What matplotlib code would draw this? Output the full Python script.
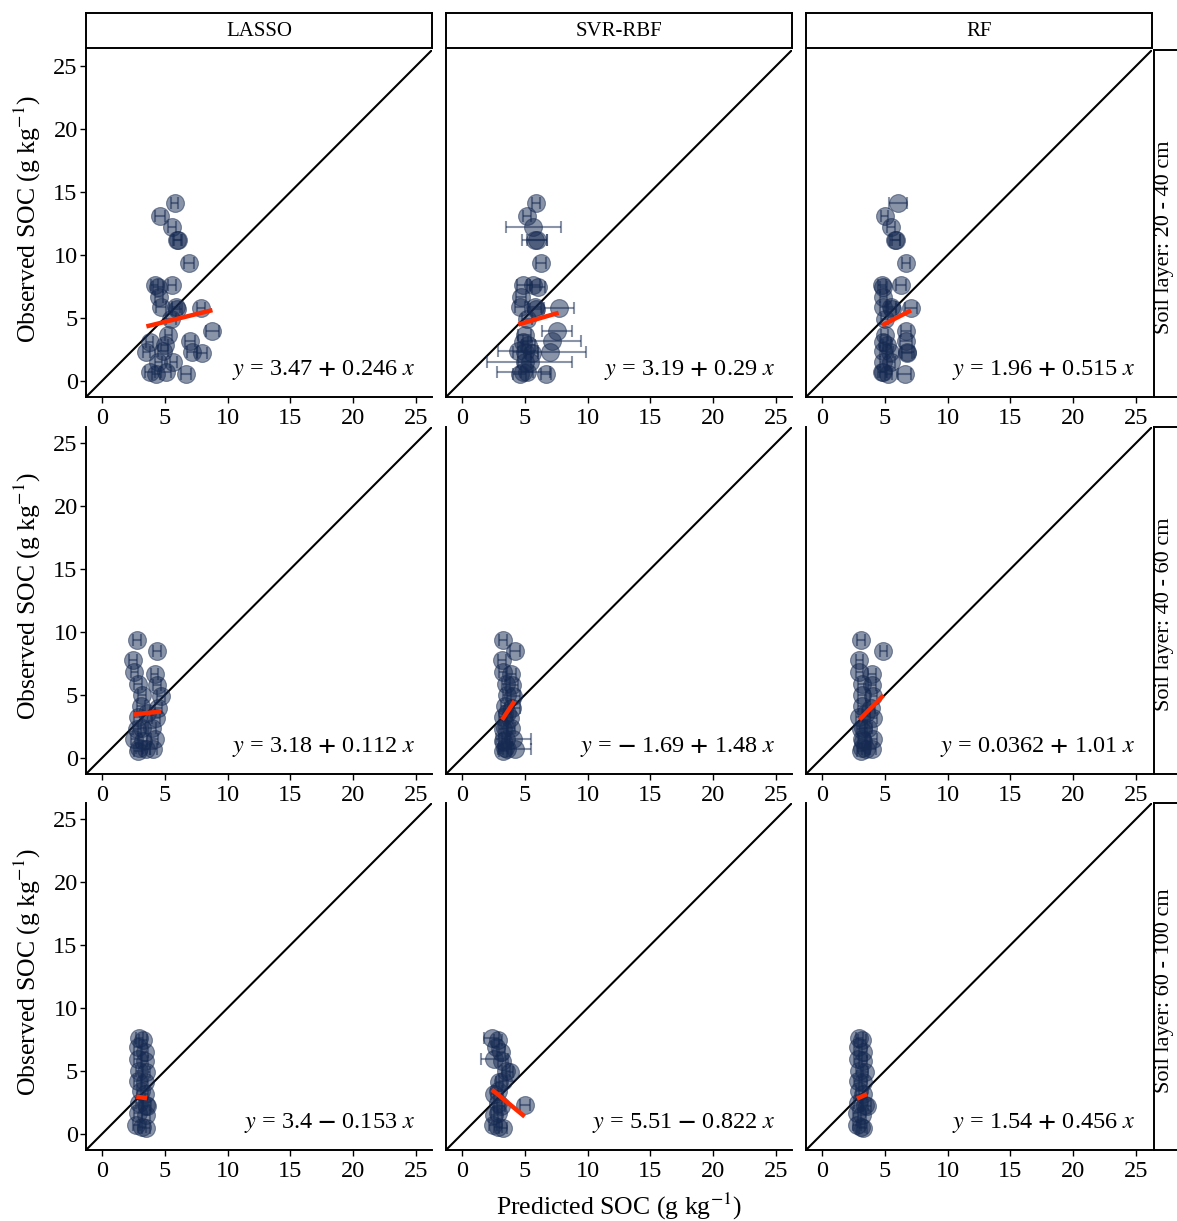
import matplotlib
matplotlib.use("Agg")
import matplotlib.pyplot as plt
import numpy as np

plt.rcParams["font.family"] = ["Liberation Serif", "DejaVu Serif"]
plt.rcParams["mathtext.fontset"] = "stix"

models = ["LASSO", "SVR-RBF", "RF"]
layers = ["Soil layer: 20 - 40 cm", "Soil layer: 40 - 60 cm", "Soil layer: 60 - 100 cm"]

# observed SOC per soil layer (same for all models)
obs_20_40 = [14.1, 13.1, 12.2, 11.2, 11.2, 9.4, 7.6, 7.6, 7.5, 6.7, 5.9, 5.9, 5.8, 5.7, 4.9,
             4.0, 3.7, 3.2, 3.1, 2.9, 2.4, 2.3, 2.3, 2.2, 1.5, 1.5, 0.7, 0.7, 0.6, 0.6]
obs_40_60 = [9.4, 8.5, 7.8, 6.8, 6.7, 5.9, 5.8, 5.0, 4.9, 4.1, 4.0, 3.6, 3.3, 3.2, 2.4, 2.4,
             2.3, 1.5, 1.5, 1.4, 0.8, 0.7, 0.7, 0.6]
obs_60_100 = [7.6, 7.5, 6.9, 6.5, 6.0, 5.8, 5.0, 4.9, 4.2, 4.1, 3.4, 3.2, 2.5, 2.3, 2.2, 1.7,
              1.5, 0.7, 0.6, 0.5]

# predicted SOC (mean) and error bar half-width
lasso_20_40 = [5.8, 4.6, 5.6, 6.05, 6.0, 6.9, 4.2, 5.6, 4.5, 4.55, 4.7, 5.9, 7.9, 6.0, 5.5,
               8.8, 5.3, 7.0, 3.8, 5.0, 4.9, 3.55, 7.2, 8.0, 4.5, 5.7, 3.8, 5.1, 6.7, 4.3]
lasso_20_40_err = [0.3, 0.4, 0.3, 0.3, 0.3, 0.4, 0.3, 0.3, 0.4, 0.3, 0.4, 0.3, 0.3, 0.4, 0.4,
                   0.5, 0.3, 0.4, 0.3, 0.3, 0.4, 0.3, 0.4, 0.4, 0.3, 0.3, 0.4, 0.4, 0.4, 0.3]
svr_20_40 = [5.9, 5.2, 5.7, 5.8, 6.0, 6.3, 4.9, 5.7, 6.1, 4.7, 4.6, 5.8, 7.7, 5.9, 5.2,
             7.6, 5.0, 7.2, 4.9, 5.3, 4.5, 5.0, 7.0, 5.6, 5.4, 5.0, 4.9, 5.2, 6.7, 4.6]
svr_20_40_err = [0.3, 0.3, 2.2, 1.0, 0.8, 0.4, 0.5, 0.5, 0.5, 0.4, 0.4, 0.5, 1.2, 0.5, 0.4,
                 1.2, 0.5, 2.3, 0.4, 0.5, 1.6, 0.5, 2.9, 0.5, 3.4, 0.5, 2.1, 0.5, 0.4, 0.5]
rf_20_40 = [6.05, 5.0, 5.5, 5.8, 5.9, 6.7, 4.8, 6.3, 4.9, 4.9, 4.9, 5.5, 7.1, 5.6, 5.0,
            6.7, 5.0, 6.7, 4.9, 5.2, 4.9, 5.4, 6.8, 6.8, 4.9, 5.5, 4.9, 4.8, 6.6, 5.3]
rf_20_40_err = [0.7, 0.3, 0.3, 0.4, 0.3, 0.3, 0.3, 0.4, 0.3, 0.3, 0.3, 0.4, 0.5, 0.3, 0.3,
                0.4, 0.3, 0.5, 0.3, 0.3, 0.3, 0.3, 0.5, 0.4, 0.3, 0.3, 0.3, 0.3, 0.5, 0.3]

lasso_40_60 = [2.8, 4.4, 2.5, 2.6, 4.2, 2.9, 4.4, 3.2, 4.7, 3.1, 4.5, 3.6, 2.9, 4.3, 3.2, 4.0,
               2.8, 2.6, 4.2, 3.3, 3.0, 4.1, 3.5, 2.9]
lasso_40_60_err = [0.3] * 24
svr_40_60 = [3.3, 4.2, 3.2, 3.3, 3.9, 3.5, 4.0, 3.6, 4.1, 3.4, 4.0, 3.6, 3.3, 3.8, 3.4, 3.9,
             3.3, 3.5, 4.1, 3.3, 3.4, 4.2, 3.6, 3.3]
svr_40_60_err = [0.3, 0.4, 0.3, 0.3, 0.4, 0.3, 0.5, 0.3, 0.5, 0.3, 0.6, 0.3, 0.3, 0.3, 0.3, 0.3,
                 0.3, 0.3, 1.4, 0.3, 0.3, 1.3, 0.3, 0.3]
rf_40_60 = [3.1, 4.9, 3.0, 3.0, 4.0, 3.2, 4.0, 3.2, 4.1, 3.2, 3.9, 3.5, 3.0, 4.1, 3.3, 3.7,
            3.1, 3.2, 4.1, 3.3, 3.2, 4.0, 3.5, 3.1]
rf_40_60_err = [0.3] * 24

lasso_60_100 = [3.0, 3.3, 2.9, 3.4, 2.9, 3.4, 3.0, 3.5, 2.9, 3.4, 3.1, 3.4, 3.0, 3.5, 3.6,
                2.9, 3.5, 2.75, 3.2, 3.5]
lasso_60_100_err = [0.3] * 20
svr_60_100 = [2.4, 2.9, 2.7, 3.1, 2.6, 3.2, 3.5, 3.8, 3.3, 3.0, 2.9, 2.6, 2.9, 5.0, 3.1,
              2.9, 2.6, 2.5, 2.9, 3.3]
svr_60_100_err = [0.6, 0.3, 0.3, 0.3, 1.1, 0.3, 0.3, 0.3, 0.3, 0.3, 0.3, 0.3, 0.3, 0.4, 0.3,
                  0.3, 0.3, 0.3, 0.3, 0.3]
rf_60_100 = [3.0, 3.2, 2.9, 3.3, 2.9, 3.3, 3.0, 3.4, 2.9, 3.3, 3.0, 3.3, 2.9, 3.4, 3.6,
             2.8, 3.2, 2.8, 3.1, 3.3]
rf_60_100_err = [0.3] * 20

# fitted line coefficients (intercept, slope) per layer x model
intercepts = [[3.47, 3.19, 1.96], [3.18, -1.69, 0.0362], [3.4, 5.51, 1.54]]
slopes = [[0.246, 0.29, 0.515], [0.112, 1.48, 1.01], [-0.153, -0.822, 0.456]]

observed = [obs_20_40, obs_40_60, obs_60_100]
predicted = [[lasso_20_40, svr_20_40, rf_20_40],
             [lasso_40_60, svr_40_60, rf_40_60],
             [lasso_60_100, svr_60_100, rf_60_100]]
pred_err = [[lasso_20_40_err, svr_20_40_err, rf_20_40_err],
            [lasso_40_60_err, svr_40_60_err, rf_40_60_err],
            [lasso_60_100_err, svr_60_100_err, rf_60_100_err]]

W, H = 1177, 1221
fig = plt.figure(figsize=(W / 100, H / 100), dpi=100)

col_x = [86, 446, 806]
row_y = [50, 427, 803]
pw, ph = 346, 347
navy = "#162a52"


def fmt_eq(a, b):
    s_a = ("$\\mathbf{-}$ " if a < 0 else "") + f"{abs(a):g}"
    sign = "$\\mathbf{-}$" if b < 0 else "$\\mathbf{+}$"
    return f"$y$ = {s_a} {sign} {abs(b):g} $x$"


for r in range(3):
    for c in range(3):
        ax = fig.add_axes([col_x[c] / W, 1 - (row_y[r] + ph) / H, pw / W, ph / H])
        ax.set_xlim(-1.25, 26.25)
        ax.set_ylim(-1.25, 26.25)
        ax.plot([-1.25, 26.25], [-1.25, 26.25], color="black", lw=1.5, zorder=1)
        x = np.array(predicted[r][c])
        y = np.array(observed[r])
        ax.errorbar(x, y, xerr=pred_err[r][c], fmt="none", ecolor=navy, alpha=0.5,
                    elinewidth=1.5, capsize=4, capthick=1.5, zorder=2)
        ax.scatter(x, y, s=165, color=navy, alpha=0.5, edgecolor=navy, linewidth=0.8, zorder=3)
        xs = np.array([x.min(), x.max()])
        ax.plot(xs, intercepts[r][c] + slopes[r][c] * xs, color="#ff2a00", lw=3.2,
                solid_capstyle="butt", zorder=4)
        ax.text(24.9, 0.9, fmt_eq(intercepts[r][c], slopes[r][c]), ha="right", va="center",
                fontsize=17.5)
        ax.set_xticks([0, 5, 10, 15, 20, 25])
        ax.set_yticks([0, 5, 10, 15, 20, 25])
        for side in ["top", "right"]:
            ax.spines[side].set_visible(False)
        for side in ["left", "bottom"]:
            ax.spines[side].set_linewidth(1.4)
        ax.tick_params(labelsize=17.5, length=4, width=1, colors="black")
        ax.tick_params(axis="x", pad=4)
        ax.tick_params(axis="y", pad=2)
        if c != 0:
            ax.set_yticklabels([])
            ax.tick_params(axis="y", length=0)

        if r == 0:
            sax = fig.add_axes([col_x[c] / W, 1 - 48 / H, pw / W, 35 / H])
            sax.set_xticks([])
            sax.set_yticks([])
            for sp in sax.spines.values():
                sp.set_linewidth(1.4)
            sax.text(0.5, 0.47, models[c], ha="center", va="center", fontsize=15,
                     transform=sax.transAxes)
        if c == 2:
            sax = fig.add_axes([1154 / W, 1 - (row_y[r] + ph) / H, 40 / W, ph / H])
            sax.set_xticks([])
            sax.set_yticks([])
            for sp in sax.spines.values():
                sp.set_linewidth(1.4)
            sax.text(1164.6 / W, 1 - (row_y[r] + ph / 2 + 14) / H, layers[r], ha="center",
                     va="center", rotation=90, fontsize=16, transform=fig.transFigure)

    fig.text(27 / W, 1 - (row_y[r] + ph / 2 - 4) / H, "Observed SOC (g kg$^{-1}$)",
             rotation=90, ha="center", va="center", fontsize=18.5)

fig.text(619 / W, 1 - 1206 / H, "Predicted SOC (g kg$^{-1}$)", ha="center", va="center",
         fontsize=18.5)

plt.savefig("out.png", dpi=100)
plt.close()
